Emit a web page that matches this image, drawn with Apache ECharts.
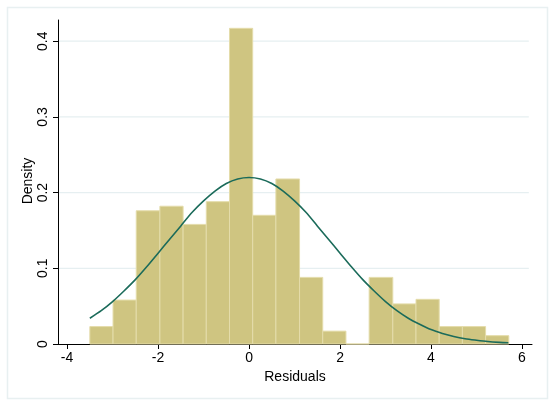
<!DOCTYPE html>
<html>
<head>
<meta charset="utf-8">
<script src="https://cdn.jsdelivr.net/npm/echarts@6/dist/echarts.min.js"></script>
<style>html,body{margin:0;padding:0;background:#fff;}#c{width:550px;height:401px;}</style>
</head>
<body>
<div id="c"></div>
<script>
// Histogram bin edges (residuals) and densities
const binEdges = [-3.50, -2.99, -2.48, -1.96, -1.45, -0.94, -0.43, 0.08, 0.59, 1.11, 1.62, 2.13, 2.64, 3.16, 3.67, 4.18, 4.69, 5.20, 5.71];
const binDensity = [0.023, 0.058, 0.176, 0.182, 0.158, 0.188, 0.417, 0.170, 0.218, 0.088, 0.017, 0, 0.088, 0.053, 0.059, 0.023, 0.023, 0.011];
// Normal density curve
const curveX = [-3.5, -3.25, -3.0, -2.75, -2.5, -2.25, -2.0, -1.75, -1.5, -1.25, -1.0, -0.75, -0.5, -0.25, 0,
                0.25, 0.5, 0.75, 1.0, 1.25, 1.5, 1.75, 2.0, 2.25, 2.5, 2.75, 3.0, 3.25, 3.5, 3.75, 4.0, 4.25, 4.5, 4.75, 5.0, 5.25, 5.5, 5.7];
const curveY = [0.034, 0.044, 0.056, 0.070, 0.085, 0.102, 0.120, 0.138, 0.156, 0.174, 0.189, 0.202, 0.212, 0.218, 0.220,
                0.218, 0.212, 0.202, 0.189, 0.174, 0.156, 0.138, 0.120, 0.102, 0.085, 0.070, 0.056, 0.044, 0.034, 0.026, 0.019, 0.014, 0.010, 0.007, 0.005, 0.0033, 0.0022, 0.0016];
const xTicks = [-4, -2, 0, 2, 4, 6];
const yTicks = [0, 0.1, 0.2, 0.3, 0.4];
const xTitle = 'Residuals';
const yTitle = 'Density';

const histData = binDensity.map((d, i) => [binEdges[i], binEdges[i + 1], d]);
const curveData = curveX.map((x, i) => [x, curveY[i]]);

const chart = echarts.init(document.getElementById('c'), null, {renderer: 'canvas'});
const font = 'Liberation Sans, Arial, sans-serif';
chart.setOption({
  animation: false,
  backgroundColor: '#fff',
  graphic: [{
    type: 'rect', left: 5, top: 5, shape: {width: 540, height: 391},
    style: {fill: 'none', stroke: '#e8f0f1', lineWidth: 1.5}, z: -10
  }, {
    type: 'text', x: 28, y: 181, rotation: Math.PI / 2,
    style: {text: yTitle, fill: '#000', font: '14px ' + font, align: 'center', verticalAlign: 'middle'}
  }],
  grid: {left: 58, right: 18, top: 20, bottom: 57},
  xAxis: {
    type: 'value', min: -4.2, max: 6.22,
    name: xTitle, nameLocation: 'middle', nameGap: 26,
    nameTextStyle: {color: '#000', fontSize: 14, fontFamily: font},
    axisLine: {onZero: false, lineStyle: {color: '#000', width: 1}},
    axisTick: {customValues: xTicks, length: 5, lineStyle: {color: '#000'}},
    axisLabel: {customValues: xTicks, color: '#000', fontSize: 14, fontFamily: font, margin: 7},
    splitLine: {show: false}
  },
  yAxis: {
    type: 'value', min: 0, max: 0.428,
    axisLine: {show: true, onZero: false, lineStyle: {color: '#000', width: 1}},
    axisTick: {show: true, customValues: yTicks, length: 5, lineStyle: {color: '#000'}},
    axisLabel: {customValues: yTicks, rotate: 90, color: '#000', fontSize: 14, fontFamily: font, margin: 8,
      formatter: v => (v === 0 ? '0' : String(v))},
    splitLine: {show: false}
  },
  series: [
    {
      type: 'custom',
      data: yTicks.slice(1).map(v => [v]),
      renderItem: (params, api) => {
        const y = api.value(0);
        const p1 = api.coord([-4.2, y]);
        const p2 = api.coord([6.15, y]);
        return {type: 'line', shape: {x1: p1[0], y1: p1[1], x2: p2[0], y2: p2[1]},
          style: {stroke: '#e6eff1', lineWidth: 1.2}};
      },
      encode: {y: 0}, z: 0, silent: true
    },
    {
      type: 'custom',
      data: histData,
      renderItem: (params, api) => {
        const a = api.coord([api.value(0), api.value(2)]);
        const b = api.coord([api.value(1), 0]);
        return {type: 'rect', shape: {x: a[0], y: a[1], width: b[0] - a[0], height: b[1] - a[1]},
          style: {fill: '#cfc581', stroke: '#e4dcaa', lineWidth: 1}};
      },
      encode: {x: [0, 1], y: 2}, z: 2
    },
    {
      type: 'line', data: curveData, smooth: 0.3, showSymbol: false,
      lineStyle: {color: '#1b6b5a', width: 1.6}, z: 3
    }
  ]
});
</script>
</body>
</html>
